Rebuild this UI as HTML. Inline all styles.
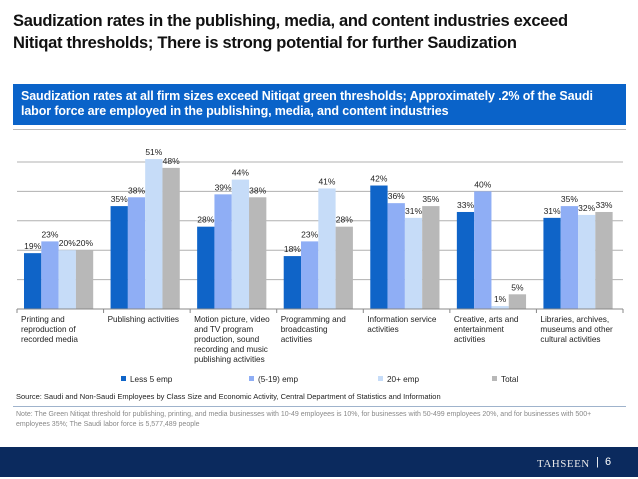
<!DOCTYPE html>
<html><head><meta charset="utf-8"><style>
body{margin:0;width:638px;height:479px;background:#fff;font-family:"Liberation Sans",sans-serif;position:relative;overflow:hidden}
.abs{position:absolute}
</style></head><body>
<div class="abs" style="left:13px;top:10px;font-size:16.5px;font-weight:bold;color:#111;line-height:22px;letter-spacing:-0.3px">Saudization rates in the publishing, media, and content industries exceed<br>Nitiqat thresholds; There is strong potential for further Saudization</div>
<div class="abs" style="left:13px;top:84px;width:613px;height:41px;background:#0a63c9;color:#fff;font-weight:bold;font-size:12.5px;line-height:15px;padding:5px 0 0 8px;box-sizing:border-box;letter-spacing:-0.12px;white-space:nowrap">Saudization rates at all firm sizes exceed Nitiqat green thresholds; Approximately .2% of the Saudi<br>labor force are employed in the publishing, media, and content industries</div>
<div class="abs" style="left:13px;top:129px;width:613px;height:1px;background:#bbb"></div>
<svg class="abs" style="left:0;top:0" width="638" height="479" id="chart"></svg>
<div class="abs" style="left:16px;top:392px;font-size:7.5px;color:#222">Source: Saudi and Non-Saudi Employees by Class Size and Economic Activity, Central Department of Statistics and Information</div>
<div class="abs" style="left:13px;top:406px;width:613px;height:1px;background:#9fb3cc"></div>
<div class="abs" style="left:16px;top:410px;width:610px;font-size:7px;color:#888;line-height:10px">Note: The Green Nitiqat threshold for publishing, printing, and media businesses with 10-49 employees is 10%, for businesses with 50-499 employees 20%, and for businesses with 500+ employees 35%; The Saudi labor force is 5,577,489 people</div>
<div class="abs" style="left:0;top:447px;width:638px;height:30px;background:#0b2a5e"></div>
<div class="abs" style="left:537px;top:458px;color:#e8e8e8;font-family:'Liberation Serif',serif;font-size:11px;letter-spacing:0.5px">TAHSEEN</div>
<div class="abs" style="left:596px;top:456px;color:#fff;font-size:11px">|&nbsp; 6</div>
<script>
const categories=[["Printing and","reproduction of","recorded media"],["Publishing activities"],["Motion picture, video","and TV program","production, sound","recording and music","publishing activities"],["Programming and","broadcasting","activities"],["Information service","activities"],["Creative, arts and","entertainment","activities"],["Libraries, archives,","museums and other","cultural activities"]];
const seriesNames=["Less 5 emp","(5-19) emp","20+  emp","Total"];
const less5=[19,35,28,18,42,33,31];
const mid519=[23,38,39,23,36,40,35];
const over20=[20,51,44,41,31,1,32];
const total=[20,48,38,28,35,5,33];
const yTicks=[0,10,20,30,40,50];
const colors=["#0f64c8","#8faef5","#c6dcf8","#b8b8b8"];
const svg=document.getElementById('chart');const NS="http://www.w3.org/2000/svg";
const x0=17,x1=623,yBase=309,pxPer=2.94;
const gw=(x1-x0)/categories.length;
const y=v=>yBase-v*pxPer;
function mk(t,a){const e=document.createElementNS(NS,t);for(const k in a)e.setAttribute(k,a[k]);svg.appendChild(e);return e;}
yTicks.forEach(t=>{if(t===0)return;const l=mk('line',{x1:x0,x2:x1,y1:y(t),y2:y(t),stroke:'#b0b0b0','stroke-width':1});

});
const series=[less5,mid519,over20,total];
const bw=17.3;
categories.forEach((c,i)=>{
 const gx=x0+i*gw+7;
 series.forEach((s,j)=>{
  const v=s[i];const bx=gx+j*bw;
  const r=mk('rect',{x:bx,y:y(v),width:bw,height:v*pxPer,fill:colors[j]});
  
  
  const t=mk('text',{x:bx+bw/2,y:y(v)-4,'font-size':8.5,'text-anchor':'middle',fill:'#222'});
  t.textContent=v+'%';
  
  
 });
 c.forEach((ln,k)=>{const t=mk('text',{x:x0+i*gw+4,y:yBase+13+k*10,'font-size':8.2,fill:'#222'});t.textContent=ln;
 
 });
 const tk=mk('line',{x1:x0+i*gw,x2:x0+i*gw,y1:yBase,y2:yBase+4,stroke:'#888'});
 
 
});
const tkl=mk('line',{x1:x1,x2:x1,y1:yBase,y2:yBase+4,stroke:'#888'});


const ax=mk('line',{x1:x0,x2:x1,y1:yBase,y2:yBase,stroke:'#888'});


const lx=[121,249,378,492];
seriesNames.forEach((n,j)=>{
 const r=mk('rect',{x:lx[j],y:376,width:5,height:5,fill:colors[j]});
 
 
 const t=mk('text',{x:lx[j]+9,y:382,'font-size':8.2,fill:'#222'});t.textContent=n;
 
 
});
</script>
</body></html>
